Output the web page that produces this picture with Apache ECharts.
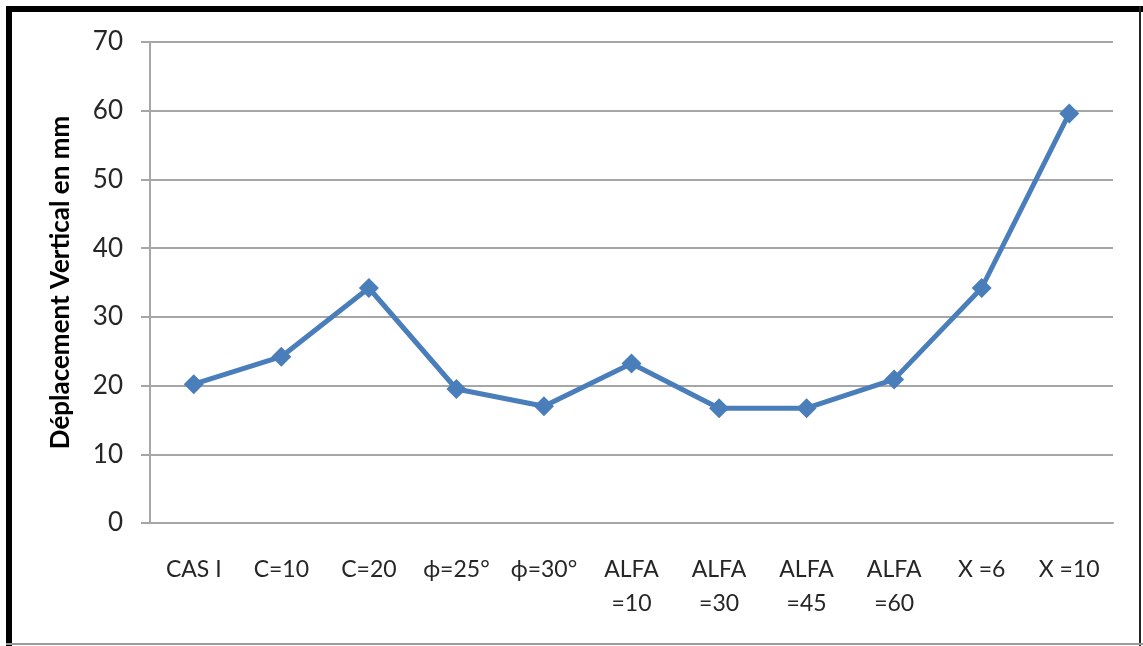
<!DOCTYPE html>
<html>
<head>
<meta charset="utf-8">
<script src="https://cdn.jsdelivr.net/npm/echarts@6/dist/echarts.min.js"></script>
<style>
  html, body { margin: 0; padding: 0; background: #ffffff; }
  #chart { width: 1143px; height: 646px; }
</style>
</head>
<body>
<div id="chart"></div>
<script>
// Cases studied along the horizontal axis
const categories = ['CAS I', 'C=10', 'C=20', 'ϕ=25°', 'ϕ=30°', 'ALFA\n=10', 'ALFA\n=30', 'ALFA\n=45', 'ALFA\n=60', 'X =6', 'X =10'];
// Vertical displacement (mm) for each case
const displacement = [20.2, 24.2, 34.2, 19.5, 17.0, 23.2, 16.7, 16.7, 20.9, 34.2, 59.6];
// Value axis range
const yMin = 0, yMax = 70, yStep = 10;

const FONT = '"Lato", "Liberation Sans", sans-serif';
const chart = echarts.init(document.getElementById('chart'), null, { renderer: 'canvas' });

chart.setOption({
  backgroundColor: '#ffffff',
  animation: false,
  grid: { left: 150, right: 30, top: 42, bottom: 123, containLabel: false },
  xAxis: {
    type: 'category',
    data: categories,
    boundaryGap: true,
    axisLine: { lineStyle: { color: '#a6a6a6', width: 2 } },
    axisTick: { show: false },
    axisLabel: {
      interval: 0,
      margin: 30,
      color: '#262626',
      fontFamily: FONT,
      fontSize: 23,
      lineHeight: 34,
      verticalAlign: 'top'
    },
    splitLine: { show: false }
  },
  yAxis: {
    type: 'value',
    min: yMin,
    max: yMax,
    interval: yStep,
    name: 'Déplacement Vertical en mm',
    nameLocation: 'middle',
    nameGap: 76,
    nameTextStyle: { fontFamily: FONT, fontSize: 26, fontWeight: 'bold', color: '#000000' },
    axisLine: { show: true, lineStyle: { color: '#a6a6a6', width: 2 } },
    axisTick: { show: true, length: 9, lineStyle: { color: '#a6a6a6', width: 2 } },
    axisLabel: { margin: 27, color: '#262626', fontFamily: FONT, fontSize: 26 },
    splitLine: { show: true, lineStyle: { color: '#a6a6a6', width: 2 } }
  },
  series: [{
    type: 'line',
    data: displacement,
    symbol: 'diamond',
    symbolSize: 20,
    lineStyle: { color: '#4a7ebb', width: 5 },
    itemStyle: { color: '#4a7ebb' },
    z: 3
  }],
  graphic: [
    { type: 'rect', shape: { x: 6, y: 6, width: 1137, height: 6 }, style: { fill: '#000000' }, z: 10 },
    { type: 'rect', shape: { x: 6, y: 6, width: 6, height: 640 }, style: { fill: '#000000' }, z: 10 },
    { type: 'rect', shape: { x: 1139, y: 6, width: 2, height: 640 }, style: { fill: '#222222' }, z: 10 },
    { type: 'rect', shape: { x: 6, y: 643, width: 1137, height: 2 }, style: { fill: '#9a9a9a' }, z: 10 }
  ]
});
</script>
</body>
</html>
